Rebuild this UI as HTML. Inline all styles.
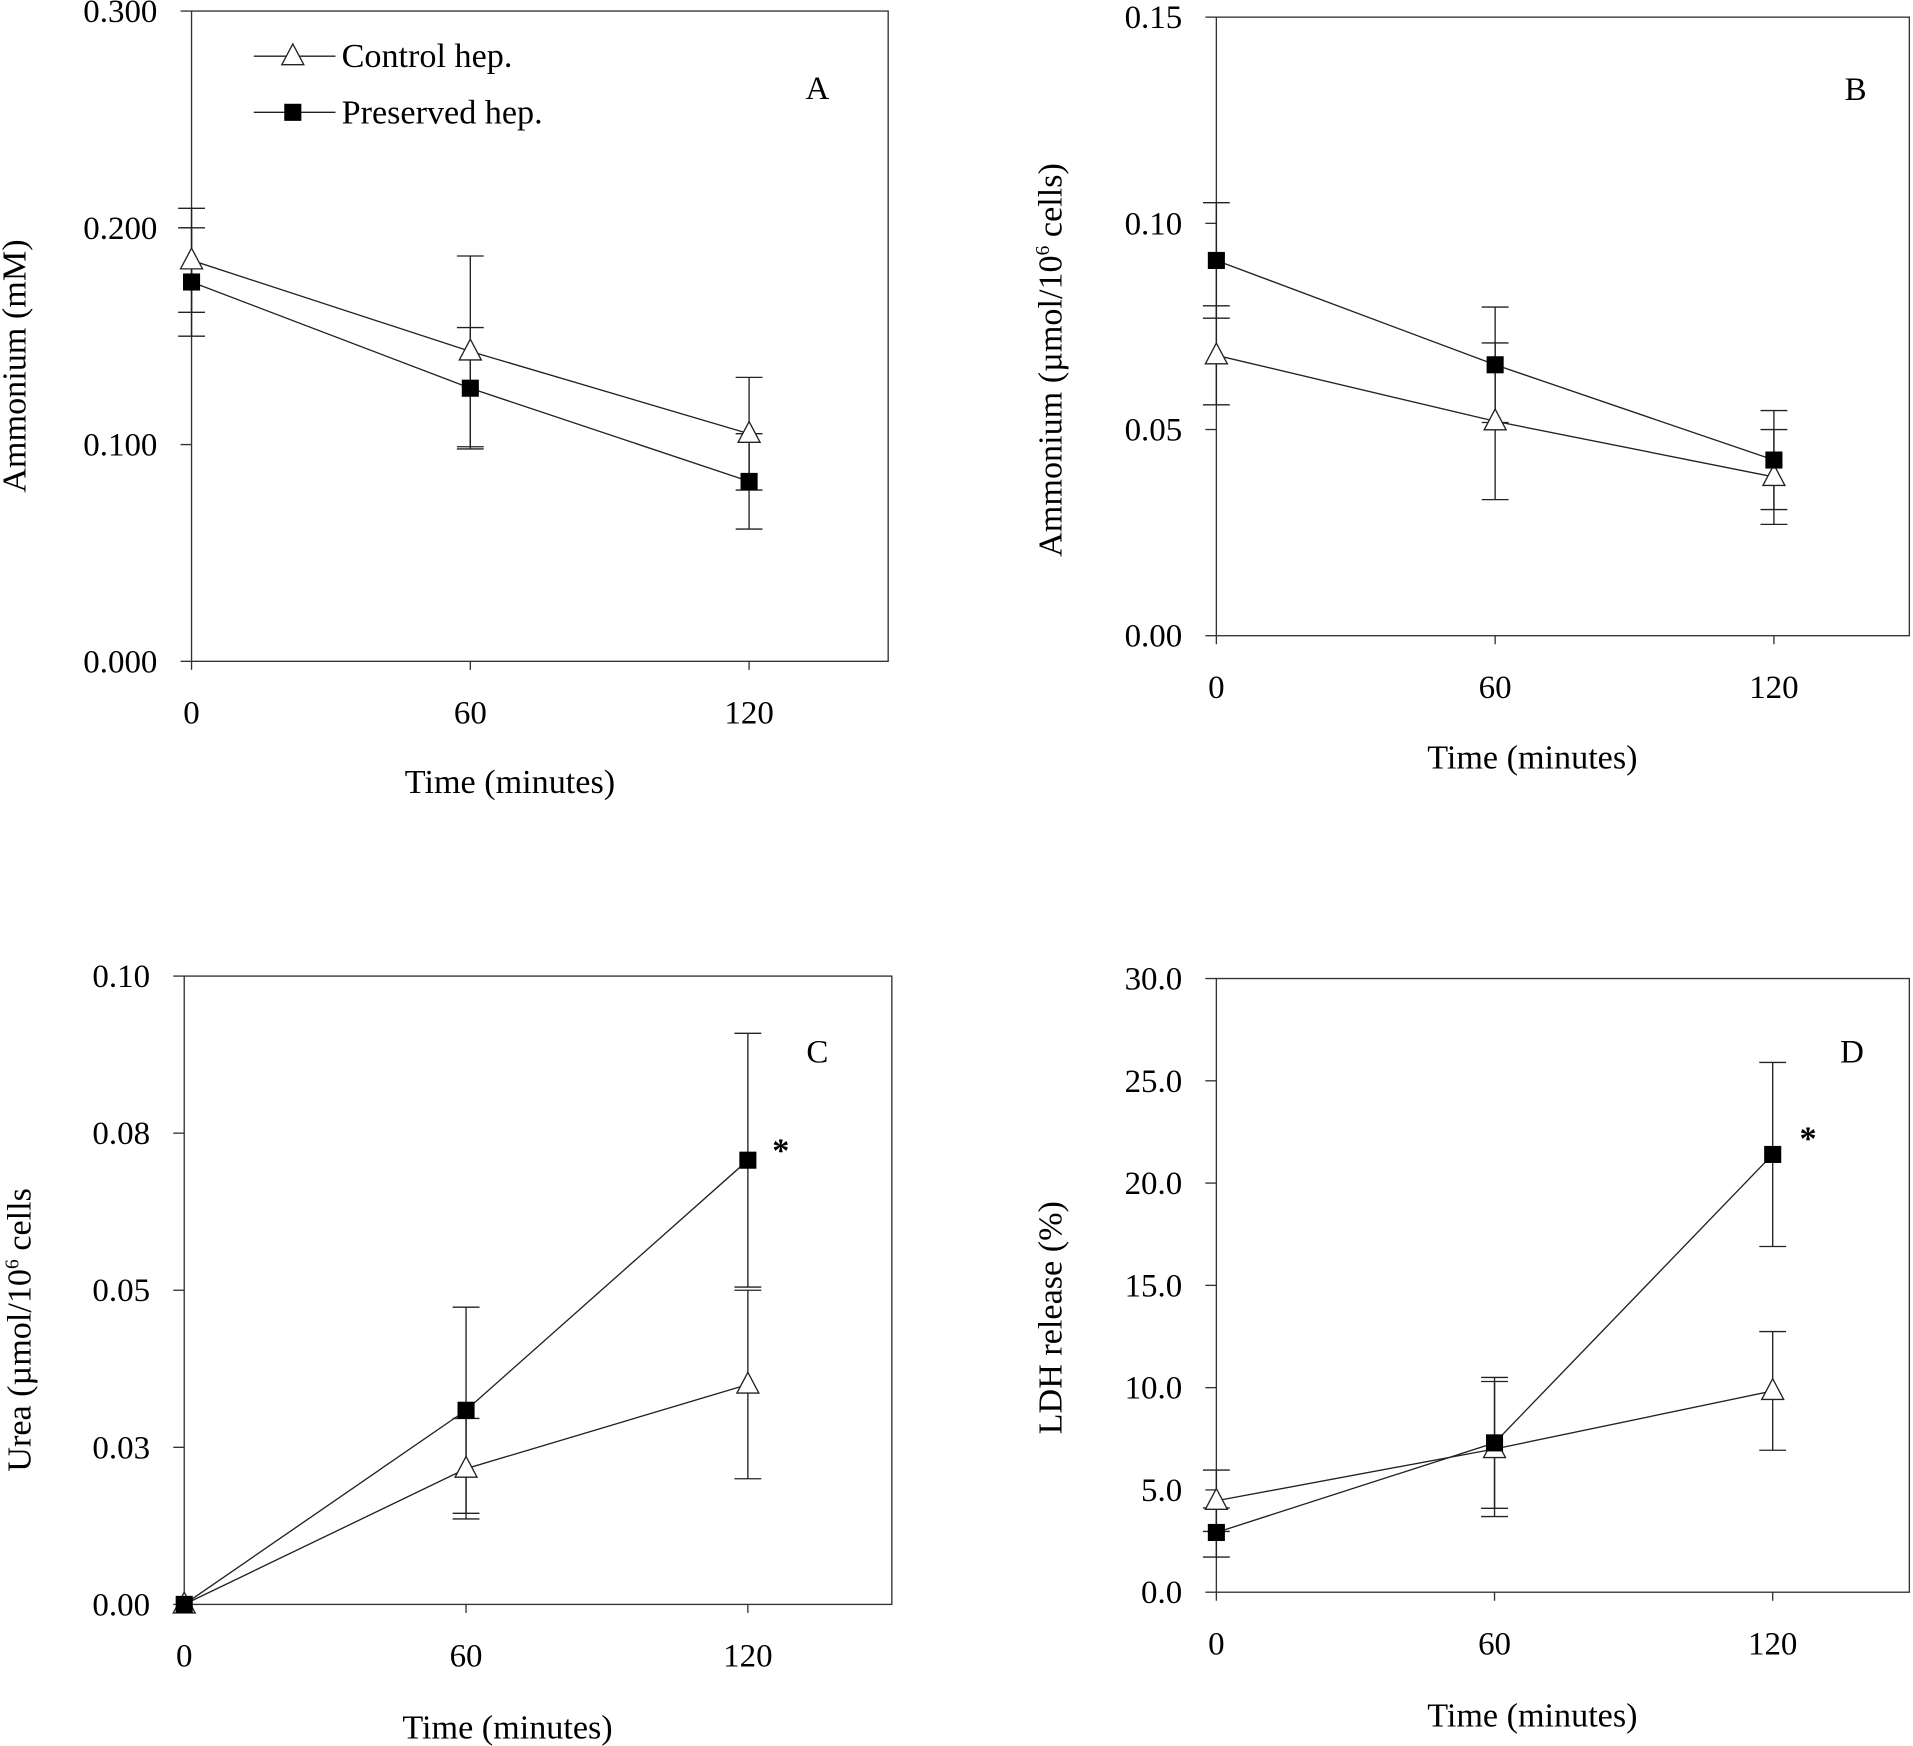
<!DOCTYPE html>
<html><head><meta charset="utf-8"><style>
html,body{margin:0;padding:0;background:#fff;}
svg{display:block;}
text{font-family:"Liberation Serif",serif;fill:#000;}
</style></head><body>
<svg id="fig" width="1913" height="1746" viewBox="0 0 1568 1431" xmlns="http://www.w3.org/2000/svg"></svg>
<script>
const times = [0, 60, 120];
// Panel A: Ammonium (mM)
const aControl = [0.185, 0.143, 0.105];
const aControlErr = [0.024, 0.044, 0.026];
const aPreserved = [0.175, 0.126, 0.083];
const aPreservedErr = [0.025, 0.028, 0.022];
const aTicks = ["0.000", "0.100", "0.200", "0.300"];
const aTickVals = [0, 0.1, 0.2, 0.3];
// Panel B: Ammonium (umol/10^6 cells)
const bControl = [0.068, 0.052, 0.0385];
const bControlErr = [0.012, 0.019, 0.0115];
const bPreserved = [0.091, 0.0657, 0.0426];
const bPreservedErr = [0.014, 0.014, 0.012];
const bTicks = ["0.00", "0.05", "0.10", "0.15"];
const bTickVals = [0, 0.05, 0.1, 0.15];
// Panel C: Urea
const cControl = [0, 0.0216, 0.035];
const cControlErr = [0, 0.008, 0.015];
const cPreserved = [0, 0.0309, 0.0707];
const cPreservedErr = [0, 0.0164, 0.0202];
const cTicks = ["0.00", "0.03", "0.05", "0.08", "0.10"];
const cTickVals = [0, 0.025, 0.05, 0.075, 0.1];
// Panel D: LDH release
const dControl = [4.47, 7.0, 9.84];
const dControlErr = [1.5, 3.3, 2.9];
const dPreserved = [2.92, 7.3, 21.4];
const dPreservedErr = [1.2, 3.2, 4.5];
const dTicks = ["0.0", "5.0", "10.0", "15.0", "20.0", "25.0", "30.0"];
const dTickVals = [0, 5, 10, 15, 20, 25, 30];
const xTicks = ["0", "60", "120"];

const NS = "http://www.w3.org/2000/svg";
const svg = document.getElementById("fig");
function mk(tag, attrs, parent){
  const e = document.createElementNS(NS, tag);
  for (const k in attrs) e.setAttribute(k, attrs[k]);
  (parent||svg).appendChild(e);
  return e;
}
function panel(p){
  const g = mk("g", {});
  
  
  const xs = t => p.x0 + (p.x120 - p.x0) * t / 120;
  const ys = v => p.bottom - (p.bottom - p.top) * v / p.ymax;
  const fr = mk("rect", {x:p.x0, y:p.top, width:p.right-p.x0, height:p.bottom-p.top, fill:"none", stroke:"#333", "stroke-width":1.1}, g);
  
  
  p.tickVals.forEach((v,i)=>{
    const y = ys(v);
    mk("line", {x1:p.x0-9, x2:p.x0, y1:y, y2:y, stroke:"#333", "stroke-width":1.1}, g);
    const t = mk("text", {x:p.x0-28, y:y+9, "text-anchor":"end", "font-size":27}, g);
    t.textContent = p.ticks[i];
    
    
  });
  times.forEach((tv,i)=>{
    const x = xs(tv);
    mk("line", {x1:x, x2:x, y1:p.bottom, y2:p.bottom+7, stroke:"#333", "stroke-width":1.1}, g);
    const t = mk("text", {x:x, y:p.bottom+51, "text-anchor":"middle", "font-size":27}, g);
    t.textContent = xTicks[i];
    
    
  });
  const series = [
    {vals:p.ctrl, err:p.ctrlErr, m:"tri", name:"control-series"},
    {vals:p.pres, err:p.presErr, m:"sq", name:"preserved-series"}
  ];
  series.forEach(s=>{
    const sg = mk("g", {}, g);
    
    
    s.vals.forEach((v,i)=>{
      if (!s.err[i]) return;
      const x = xs(times[i]), y1 = ys(v + s.err[i]), y2 = ys(v - s.err[i]);
      mk("line", {x1:x,x2:x,y1:y1,y2:y2,stroke:"#222","stroke-width":1.1}, sg);
      mk("line", {x1:x-11,x2:x+11,y1:y1,y2:y1,stroke:"#222","stroke-width":1.1}, sg);
      mk("line", {x1:x-11,x2:x+11,y1:y2,y2:y2,stroke:"#222","stroke-width":1.1}, sg);
    });
    const pts = s.vals.map((v,i)=>xs(times[i])+","+ys(v)).join(" ");
    mk("polyline", {points:pts, fill:"none", stroke:"#222", "stroke-width":1.1}, sg);
  });
  series.forEach(s=>{
    s.vals.forEach((v,i)=>{
      const x = xs(times[i]), y = ys(v);
      let e;
      if (s.m === "sq") e = mk("rect", {x:x-7, y:y-7, width:14, height:14, fill:"#000"}, g);
      else e = mk("polygon", {points:`${x},${y-10} ${x-9},${y+7} ${x+9},${y+7}`, fill:"#fff", stroke:"#222", "stroke-width":1.1}, g);
      
      
    });
  });
  const L = mk("text", {x:p.lx, y:p.ly, "text-anchor":"middle", "font-size":27}, g);
  L.textContent = p.letter;
  
  
  const xt = mk("text", {x:p.xtx, y:p.xty, "text-anchor":"middle", "font-size":28}, g);
  xt.textContent = "Time (minutes)";
  
  
  const yt = mk("text", {x:0, y:0, "text-anchor":"middle", "font-size":28, transform:`translate(${p.ytx},${p.yty}) rotate(-90)`}, g);
  
  
  if (p.sup){
    const a = mk("tspan", {}, yt); a.textContent = p.yt1;
    const b = mk("tspan", {dy:-10, "font-size":16}, yt); b.textContent = "6";
    const c = mk("tspan", {dy:10}, yt); c.textContent = p.yt2;
  } else yt.textContent = p.yt1;
  if (p.star){
    const st = mk("text", {x:p.star[0], y:p.star[1], "text-anchor":"middle", "font-size":28, "font-weight":"bold"}, g);
    st.textContent = "*";
    
    
  }
  return g;
}
panel({name:"panel-a", x0:157, x120:614, right:728, top:9, bottom:542, ymax:0.3, ticks:aTicks, tickVals:aTickVals,
  ctrl:aControl, ctrlErr:aControlErr, pres:aPreserved, presErr:aPreservedErr, letter:"A", lx:670, ly:81,
  xtx:418, xty:650, ytx:21, yty:300, yt1:"Ammonium (mM)"});
panel({name:"panel-b", x0:997, x120:1454, right:1565, top:14, bottom:521, ymax:0.15, ticks:bTicks, tickVals:bTickVals,
  ctrl:bControl, ctrlErr:bControlErr, pres:bPreserved, presErr:bPreservedErr, letter:"B", lx:1521, ly:82,
  xtx:1256, xty:630, ytx:870, yty:295, sup:true, yt1:"Ammonium (µmol/10", yt2:"  cells)"});
panel({name:"panel-c", x0:151, x120:613, right:731, top:800, bottom:1315, ymax:0.1, ticks:cTicks, tickVals:cTickVals,
  ctrl:cControl, ctrlErr:cControlErr, pres:cPreserved, presErr:cPreservedErr, letter:"C", lx:670, ly:871,
  xtx:416, xty:1425, ytx:25, yty:1090, sup:true, yt1:"Urea (µmol/10", yt2:"  cells", star:[640,952]});
panel({name:"panel-d", x0:997, x120:1453, right:1565, top:802, bottom:1305, ymax:30, ticks:dTicks, tickVals:dTickVals,
  ctrl:dControl, ctrlErr:dControlErr, pres:dPreserved, presErr:dPreservedErr, letter:"D", lx:1518, ly:871,
  xtx:1256, xty:1415, ytx:870, yty:1080, yt1:"LDH release (%)", star:[1482,942]});

const lg = mk("g", {});


const le1 = mk("g", {}, lg);


mk("line", {x1:208, x2:275, y1:46, y2:46, stroke:"#222", "stroke-width":1.1}, le1);
mk("polygon", {points:"240,36 231,53 249,53", fill:"#fff", stroke:"#222", "stroke-width":1.1}, le1);
const lt1 = mk("text", {x:280, y:55, "font-size":28}, le1); lt1.textContent = "Control hep.";
const le2 = mk("g", {}, lg);


mk("line", {x1:208, x2:275, y1:92, y2:92, stroke:"#222", "stroke-width":1.1}, le2);
mk("rect", {x:233, y:85, width:14, height:14, fill:"#000"}, le2);
const lt2 = mk("text", {x:280, y:101, "font-size":28}, le2); lt2.textContent = "Preserved hep.";
</script>
</body></html>
